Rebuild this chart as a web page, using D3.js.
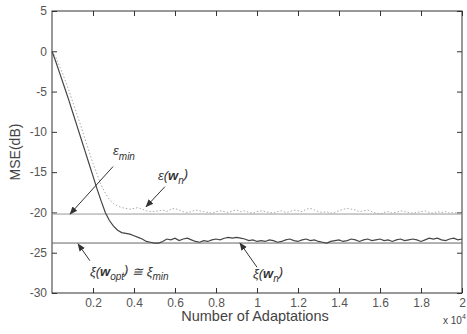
<!DOCTYPE html>
<html>
<head>
<meta charset="utf-8">
<style>
  body { margin: 0; background: #fff; }
  svg { font-family: 'Liberation Sans', Arial, sans-serif; }
  .axis .domain { display: none; }
  .axis .tick line { stroke: #333; }
  .axis .tick text { font-size: 12px; fill: #555; }
  .note { font-size: 13px; font-style: italic; fill: #333; }
</style>
</head>
<body>
<svg width="467" height="334"></svg>
<script src="https://d3js.org/d3.v7.min.js"></script>
<script>
// adaptations (x 10^4)
let xs = [0, 0.02, 0.04, 0.06, 0.08, 0.10, 0.12, 0.14, 0.16, 0.18,
  0.20, 0.22, 0.24, 0.26, 0.28, 0.30, 0.32, 0.34, 0.36, 0.38,
  0.40, 0.42, 0.44, 0.46, 0.48, 0.50, 0.52, 0.54, 0.56, 0.58,
  0.60, 0.62, 0.64, 0.66, 0.68, 0.70, 0.72, 0.74, 0.76, 0.78,
  0.80, 0.82, 0.84, 0.86, 0.88, 0.90, 0.92, 0.94, 0.96, 0.98,
  1.00, 1.02, 1.04, 1.06, 1.08, 1.10, 1.12, 1.14, 1.16, 1.18,
  1.20, 1.22, 1.24, 1.26, 1.28, 1.30, 1.32, 1.34, 1.36, 1.38,
  1.40, 1.42, 1.44, 1.46, 1.48, 1.50, 1.52, 1.54, 1.56, 1.58,
  1.60, 1.62, 1.64, 1.66, 1.68, 1.70, 1.72, 1.74, 1.76, 1.78,
  1.80, 1.82, 1.84, 1.86, 1.88, 1.90, 1.92, 1.94, 1.96, 1.98, 2.00]

// xi(w_n), solid curve
let xiWn = [0, -1.4, -2.9, -4.4, -5.9, -7.5, -9.1, -10.7, -12.3, -13.9,
  -15.5, -17.1, -18.6, -20.0, -21.0, -21.7, -22.2, -22.5, -22.6, -22.7,
  -22.9, -23.1, -23.3, -23.6, -23.7, -23.8, -23.8, -23.6, -23.3, -23.4,
  -23.2, -23.5, -23.3, -23.2, -23.4, -23.6, -23.7, -23.5, -23.6, -23.4,
  -23.3, -23.4, -23.2, -23.1, -23.2, -23.1, -23.2, -23.3, -23.5, -23.4,
  -23.6, -23.5, -23.6, -23.4, -23.5, -23.7, -23.6, -23.4, -23.3, -23.5,
  -23.6, -23.4, -23.3, -23.5, -23.4, -23.6, -23.7, -23.8, -23.6, -23.5,
  -23.4, -23.6, -23.5, -23.3, -23.4, -23.6, -23.4, -23.3, -23.5, -23.4,
  -23.3, -23.5, -23.4, -23.6, -23.4, -23.3, -23.5, -23.4, -23.3, -23.4,
  -23.6, -23.4, -23.2, -23.3, -23.2, -23.4, -23.5, -23.3, -23.2, -23.4, -23.3]

// eps(w_n), dotted curve
let epsWn = [0, -0.8, -2.0, -3.3, -4.7, -6.2, -7.7, -9.2, -10.8, -12.4,
  -13.9, -15.3, -16.6, -17.6, -18.4, -18.9, -19.2, -19.4, -19.5, -19.6,
  -19.5, -19.4, -19.6, -19.8, -19.9, -19.9, -19.8, -19.7, -19.9, -19.6,
  -19.5, -19.7, -19.9, -20.0, -19.9, -19.7, -19.8, -19.9, -20.0, -20.1,
  -19.9, -19.8, -19.9, -20.0, -19.8, -19.7, -19.9, -19.8, -20.0, -20.1,
  -19.9, -19.8, -19.9, -20.0, -20.1, -19.9, -19.8, -20.0, -19.9, -19.7,
  -19.8, -19.9, -19.6, -19.5, -19.7, -19.9, -20.0, -19.9, -20.1, -20.0,
  -19.8, -19.6, -19.5, -19.6, -19.7, -19.9, -19.8, -19.7, -19.9, -20.1,
  -20.2, -20.0, -19.9, -20.1, -20.0, -19.8, -19.9, -20.0, -20.1, -20.0,
  -19.9, -19.8, -20.0, -20.1, -19.9, -20.0, -19.9, -20.1, -20.0, -20.1, -20.2]

let epsMin = -20.2
let xiMin = -23.8

let xTicks = [0.2, 0.4, 0.6, 0.8, 1, 1.2, 1.4, 1.6, 1.8, 2]
let yTicks = [-30, -25, -20, -15, -10, -5, 0, 5]

let margin = { top: 11, right: 5, bottom: 41, left: 52 }
let width = 467, height = 334

let svg = d3.select("svg")

let x = d3.scaleLinear().domain([0, 2]).range([margin.left, width - margin.right])
let y = d3.scaleLinear().domain([-30, 5]).range([height - margin.bottom, margin.top])

// arrow head
svg.append("defs").append("marker")
  .attr("id", "head")
  .attr("viewBox", "0 0 10 10")
  .attr("refX", 9).attr("refY", 5)
  .attr("markerWidth", 8).attr("markerHeight", 8)
  .attr("orient", "auto")
  .append("path")
  .attr("d", "M0,1 L10,5 L0,9 Z")
  .attr("fill", "#333")

// axes, ticks pointing inward like matlab
svg.append("g").attr("class", "x axis")
  .attr("transform", `translate(0,${y(-30)})`)
  .call(d3.axisBottom(x).tickValues(xTicks).tickSize(-5).tickPadding(5)
    .tickFormat(d => String(d)))
svg.append("g").attr("class", "x axis")
  .attr("transform", `translate(0,${y(5)})`)
  .call(d3.axisTop(x).tickValues(xTicks).tickSize(-5).tickFormat(""))
svg.append("g").attr("class", "y axis")
  .attr("transform", `translate(${x(0)},0)`)
  .call(d3.axisLeft(y).tickValues(yTicks).tickSize(-5).tickPadding(5)
    .tickFormat(d => String(d)))
svg.append("g").attr("class", "y axis")
  .attr("transform", `translate(${x(2)},0)`)
  .call(d3.axisRight(y).tickValues(yTicks).tickSize(-5).tickFormat(""))

svg.append("rect")
  .attr("x", x(0)).attr("y", y(5))
  .attr("width", x(2) - x(0)).attr("height", y(-30) - y(5))
  .attr("fill", "none").attr("stroke", "#333").attr("stroke-width", 1)

// reference levels
svg.append("line")
  .attr("x1", x(0)).attr("x2", x(2))
  .attr("y1", y(epsMin)).attr("y2", y(epsMin))
  .attr("stroke", "#999").attr("stroke-width", 1)
svg.append("line")
  .attr("x1", x(0)).attr("x2", x(2))
  .attr("y1", y(xiMin)).attr("y2", y(xiMin))
  .attr("stroke", "#666").attr("stroke-width", 1)

let line = d3.line()
  .x((d, i) => x(xs[i]))
  .y(d => y(d))

svg.append("path")
  .datum(epsWn)
  .attr("d", line)
  .attr("fill", "none")
  .attr("stroke", "#aaa")
  .attr("stroke-width", 1)
  .attr("stroke-dasharray", "1.5,2")

svg.append("path")
  .datum(xiWn)
  .attr("d", line)
  .attr("fill", "none")
  .attr("stroke", "#444")
  .attr("stroke-width", 1.2)

// annotations (data coords)
let arrows = [
  [0.298, -14.3, 0.088, -20.2],
  [0.551, -16.8, 0.459, -19.3],
  [0.185, -26.0, 0.127, -23.9],
  [1.0, -26.8, 0.917, -23.8]
]
svg.append("g").selectAll("line")
  .data(arrows)
  .join("line")
  .attr("x1", d => x(d[0])).attr("y1", d => y(d[1]))
  .attr("x2", d => x(d[2])).attr("y2", d => y(d[3]))
  .attr("stroke", "#333").attr("stroke-width", 1)
  .attr("marker-end", "url(#head)")

function note(px, py, parts) {
  let t = svg.append("text").attr("class", "note")
    .attr("x", x(px)).attr("y", y(py))
  parts.forEach(p => {
    let s = t.append("tspan").text(p.t)
    if (p.b) s.attr("font-weight", "bold")
    if (p.sub) s.attr("font-size", 10)
    if (p.dy) s.attr("dy", p.dy)
  })
}

note(0.298, -12.9, [{ t: "ε" }, { t: "min", sub: 1, dy: 5 }])
note(0.517, -16.0, [{ t: "ε(" }, { t: "w", b: 1 }, { t: "n", sub: 1, dy: 4 }, { t: ")", dy: -6 }])
note(0.185, -27.9, [{ t: "ξ(" }, { t: "w", b: 1 }, { t: "opt", sub: 1, dy: 4 }, { t: ")", dy: -6 },
  { t: " \u2245 ", dy: 2 }, { t: "ξ" }, { t: "min", sub: 1, dy: 4 }])
note(0.98, -28.1, [{ t: "ξ(" }, { t: "w", b: 1 }, { t: "n", sub: 1, dy: 4 }, { t: ")", dy: -6 }])

// axis labels
svg.append("text")
  .attr("transform", `translate(20,${(y(5) + y(-30)) / 2}) rotate(-90)`)
  .attr("text-anchor", "middle")
  .attr("font-size", 14).attr("fill", "#444")
  .text("MSE(dB)")

svg.append("text")
  .attr("x", 255).attr("y", 321)
  .attr("text-anchor", "middle")
  .attr("font-size", 14.5).attr("fill", "#444")
  .text("Number of Adaptations")

let ex = svg.append("text")
  .attr("x", 443).attr("y", 324)
  .attr("font-size", 10).attr("fill", "#444")
ex.append("tspan").text("x 10")
ex.append("tspan").attr("dy", -5).attr("font-size", 7).text("4")
</script>
</body>
</html>
